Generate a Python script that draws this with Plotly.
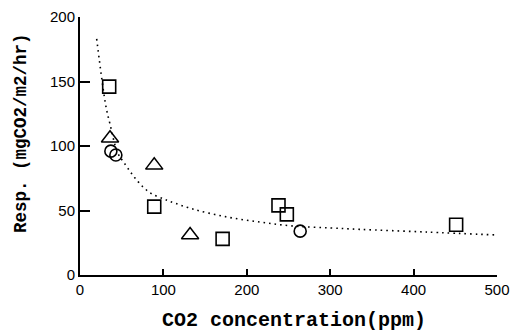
import plotly.graph_objects as go

# Data
sq_x = [35, 89, 171, 238, 248, 451]
sq_y = [146, 53, 28, 54, 47, 39]
tri_x = [36, 89, 132]
tri_y = [106, 85, 31]
cir_x = [37, 43, 264]
cir_y = [96, 93, 34]
fit_x = [20, 31, 36, 45, 55, 65, 76, 86, 100, 108, 136, 176, 216, 255, 300, 335, 415, 500]
fit_y = [183, 131, 117, 95, 85, 76, 68, 63, 59, 57, 51, 45, 41, 38, 36.5, 35.4, 33.3, 31]

x_ticks = [0, 100, 200, 300, 400, 500]
y_ticks = [0, 50, 100, 150, 200]
x_title = "CO2 concentration(ppm)"
y_title = "Resp. (mgCO2/m2/hr)"

fig = go.Figure()
fig.add_trace(go.Scatter(x=fit_x, y=fit_y, mode="lines", line=dict(color="black", width=1.6, dash="1.6px,4px", shape="spline"), showlegend=False))
fig.add_trace(go.Scatter(x=sq_x, y=sq_y, mode="markers",
                         marker=dict(symbol="square-open", size=13, color="black", line=dict(width=1.6)), showlegend=False))
fig.add_trace(go.Scatter(x=tri_x, y=tri_y, mode="markers",
                         marker=dict(symbol="triangle-up-open", size=15, color="black", line=dict(width=1.5)), showlegend=False))
fig.add_trace(go.Scatter(x=cir_x, y=cir_y, mode="markers",
                         marker=dict(symbol="circle-open", size=12, color="black", line=dict(width=1.6)), showlegend=False))

fig.update_layout(
    width=517, height=325,
    margin=dict(l=72, r=28, t=9, b=58),
    plot_bgcolor="white", paper_bgcolor="white",
    font=dict(family="Arial, Liberation Sans", color="black", size=15),
    annotations=[
        dict(text="<b>" + x_title + "</b>", xref="paper", yref="paper", x=0.5, y=0, xshift=5, yshift=-45,
             xanchor="center", yanchor="middle", showarrow=False,
             font=dict(family="Liberation Mono", size=20)),
        dict(text="<b>" + y_title + "</b>", xref="paper", yref="paper", x=0, y=0.5, xshift=-59, yshift=13,
             xanchor="center", yanchor="middle", showarrow=False, textangle=-90,
             font=dict(family="Liberation Mono", size=17.5)),
    ],
)
fig.update_xaxes(range=[0, 500], tickvals=x_ticks, ticks="inside", ticklen=6, tickwidth=2, tickcolor="black",
                 showline=True, linecolor="black", linewidth=2, showgrid=False, zeroline=False,
                 automargin=False, layer="above traces")
fig.update_yaxes(range=[0, 200], tickvals=y_ticks, ticks="inside", ticklen=10, tickwidth=2, tickcolor="black",
                 showline=True, linecolor="black", linewidth=2, showgrid=False, zeroline=False,
                 automargin=False, layer="above traces")

fig.write_html("out.html")
